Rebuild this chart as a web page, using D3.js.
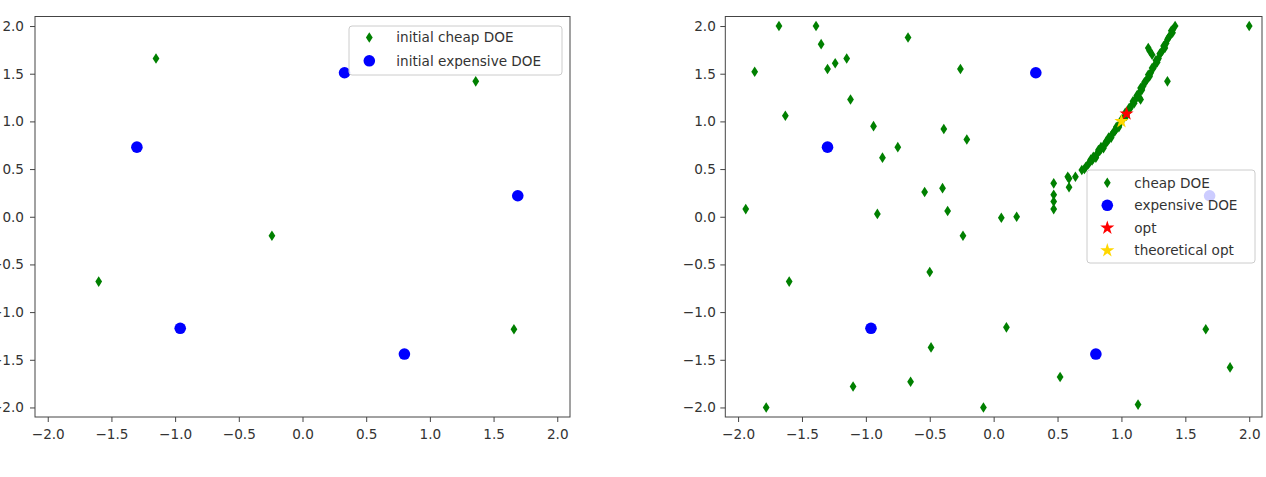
<!DOCTYPE html>
<html>
<head>
<meta charset="utf-8">
<script src="https://cdn.jsdelivr.net/npm/d3@7"></script>
<style>
  body { margin: 0; background: #fff; }
  svg text { font-family: "DejaVu Sans", sans-serif; }
</style>
</head>
<body>
<svg id="chart" width="1266" height="477"></svg>
<script>
// ---- data ----
const tickValues = [-2, -1.5, -1, -0.5, 0, 0.5, 1, 1.5, 2];

const initialCheap = [[-1.15, 1.66], [-0.24, -0.2], [-1.6, -0.68], [1.36, 1.42], [1.66, -1.18]];
const initialExpensive = [[-1.3, 0.73], [-0.96, -1.17], [0.33, 1.51], [1.69, 0.22], [0.8, -1.44]];

// extra cheap points scattered over the domain
const cheapScattered = [
  [-1.94, 0.08], [-1.87, 1.52], [-1.68, 2.0], [-1.63, 1.06], [-1.39, 2.0], [-1.35, 1.81],
  [-1.3, 1.55], [-1.24, 1.61], [-1.12, 1.23], [-0.94, 0.95], [-0.87, 0.62], [-0.75, 0.73],
  [-0.67, 1.88], [-0.91, 0.03], [-0.54, 0.26], [-0.4, 0.3], [-0.39, 0.92], [-0.36, 0.06],
  [-0.26, 1.55], [-0.21, 0.81], [-1.78, -2.0], [-1.1, -1.78], [-0.65, -1.73], [-0.5, -0.58],
  [-0.49, -1.37], [0.1, -1.16], [-0.08, -2.0], [0.52, -1.68], [1.13, -1.97], [1.85, -1.58],
  [2.0, 2.0], [0.06, -0.01], [0.18, 0.0]
];

// cheap points piled up along the valley
const cheapValley = [
  [0.47, 0.35], [0.47, 0.23], [0.47, 0.16], [0.47, 0.08], [0.58, 0.42], [0.59, 0.31],
  [0.59, 0.4], [0.64, 0.42], [0.69, 0.49], [0.71, 0.5],
  [0.72, 0.52], [0.74, 0.55], [0.75, 0.57], [0.77, 0.59], [0.78, 0.61], [0.8, 0.64],
  [0.81, 0.66], [0.83, 0.69], [0.84, 0.71], [0.86, 0.74], [0.87, 0.76], [0.89, 0.79],
  [0.9, 0.81], [0.92, 0.85], [0.93, 0.87], [0.95, 0.9], [0.96, 0.92], [0.98, 0.96],
  [0.99, 0.98], [1.01, 1.02], [1.02, 1.04], [1.04, 1.08], [1.05, 1.1], [1.07, 1.14],
  [1.08, 1.17], [1.1, 1.21], [1.11, 1.23], [1.13, 1.28], [1.14, 1.3], [1.16, 1.35],
  [1.17, 1.37], [1.19, 1.42], [1.2, 1.44], [1.22, 1.49], [1.23, 1.51], [1.25, 1.56],
  [1.26, 1.59], [1.28, 1.64], [1.29, 1.66], [1.31, 1.72], [1.32, 1.74], [1.34, 1.8],
  [1.35, 1.82], [1.37, 1.88], [1.38, 1.9], [1.4, 1.96], [1.42, 2.0],
  [0.76, 0.6], [0.82, 0.7], [0.88, 0.79], [0.94, 0.89], [1.0, 1.02], [1.06, 1.14],
  [1.12, 1.27], [1.18, 1.41], [1.24, 1.56], [1.3, 1.71], [1.36, 1.86],
  [0.78, 0.63], [0.84, 0.73], [0.9, 0.83], [0.96, 0.94], [1.03, 1.09], [1.09, 1.21],
  [1.15, 1.35], [1.21, 1.49], [1.27, 1.64], [1.33, 1.79], [1.39, 1.95],
  [0.8, 0.62], [0.86, 0.72], [0.92, 0.83], [0.98, 0.94], [1.04, 1.06], [1.1, 1.19],
  [1.16, 1.33], [1.22, 1.47], [1.28, 1.62], [1.34, 1.77], [1.4, 1.93],
  [1.22, 1.74], [1.24, 1.7], [1.21, 1.77], [1.15, 1.23], [1.14, 1.25]
];

const optPoint = [[1.04, 1.08]];
const theoreticalOpt = [[1.0, 1.0]];

const cheapDOE = initialCheap.concat(cheapScattered, cheapValley);

// ---- drawing ----
const svg = d3.select("#chart");
const textColor = "#333";

const thinDiamond = d3.symbol(d3.symbolSquare, 56);
const star = d3.symbol(d3.symbolStar, 62);

const styles = {
  cheap: { kind: "diamond", color: "#008000" },
  expensive: { kind: "circle", color: "#0000ff" },
  opt: { kind: "star", color: "#ff0000" },
  theo: { kind: "star", color: "#ffd700" }
};

function drawMarker(sel, style, x, y) {
  if (style.kind === "circle") {
    sel.append("circle").attr("cx", x).attr("cy", y).attr("r", 5.8).attr("fill", style.color);
  } else if (style.kind === "diamond") {
    sel.append("path").attr("d", thinDiamond())
      .attr("transform", `translate(${x},${y}) scale(0.64,1) rotate(45)`)
      .attr("fill", style.color);
  } else {
    sel.append("path").attr("d", star())
      .attr("transform", `translate(${x},${y})`)
      .attr("fill", style.color);
  }
}

function drawPanel(p) {
  const g = svg.append("g");
  const x = d3.scaleLinear().domain([-2.1, 2.1]).range([p.left, p.left + p.width]);
  const y = d3.scaleLinear().domain([-2.1, 2.1]).range([p.top + p.height, p.top]);

  const xAxis = g.append("g")
    .attr("transform", `translate(0,${p.top + p.height})`)
    .call(d3.axisBottom(x).tickValues(tickValues).tickFormat(d3.format(".1f")).tickSize(5).tickPadding(7));
  const yAxis = g.append("g")
    .attr("transform", `translate(${p.left},0)`)
    .call(d3.axisLeft(y).tickValues(tickValues).tickFormat(d3.format(".1f")).tickSize(5).tickPadding(p.yPad));

  [xAxis, yAxis].forEach(a => {
    a.select(".domain").remove();
    a.selectAll(".tick line").attr("stroke", "#444");
    a.selectAll(".tick text").attr("fill", textColor).style("font-size", "13.6px");
  });

  p.layers.forEach(layer => {
    const lg = g.append("g");
    layer.data.forEach(d => drawMarker(lg, styles[layer.style], x(d[0]), y(d[1])));
  });

  g.append("rect")
    .attr("x", p.left).attr("y", p.top)
    .attr("width", p.width).attr("height", p.height)
    .attr("fill", "none").attr("stroke", "#444").attr("stroke-width", 1);

  const L = p.legend;
  const lg = g.append("g");
  lg.append("rect")
    .attr("x", L.x).attr("y", L.y).attr("width", L.w).attr("height", L.h)
    .attr("rx", 3).attr("fill", "#fff").attr("fill-opacity", 0.8)
    .attr("stroke", "#cccccc").attr("stroke-width", 1);
  p.layers.forEach((layer, i) => {
    const cy = L.y + L.first + i * L.step;
    drawMarker(lg, styles[layer.style], L.x + 20.3, cy);
    lg.append("text")
      .attr("x", L.x + 47.3).attr("y", cy).attr("dy", "0.36em")
      .attr("fill", textColor).style("font-size", "13.6px")
      .text(layer.label);
  });
}

drawPanel({
  left: 35, top: 16.5, width: 535, height: 400.5, yPad: 6,
  layers: [
    { data: initialCheap, style: "cheap", label: "initial cheap DOE" },
    { data: initialExpensive, style: "expensive", label: "initial expensive DOE" }
  ],
  legend: { x: 349, y: 26, w: 213, h: 49, first: 11.5, step: 23.3 }
});

drawPanel({
  left: 725.3, top: 16.5, width: 536.7, height: 400.5, yPad: 4.5,
  layers: [
    { data: cheapDOE, style: "cheap", label: "cheap DOE" },
    { data: initialExpensive, style: "expensive", label: "expensive DOE" },
    { data: optPoint, style: "opt", label: "opt" },
    { data: theoreticalOpt, style: "theo", label: "theoretical opt" }
  ],
  legend: { x: 1087, y: 170, w: 168, h: 93, first: 12.7, step: 22.6 }
});
</script>
</body>
</html>
